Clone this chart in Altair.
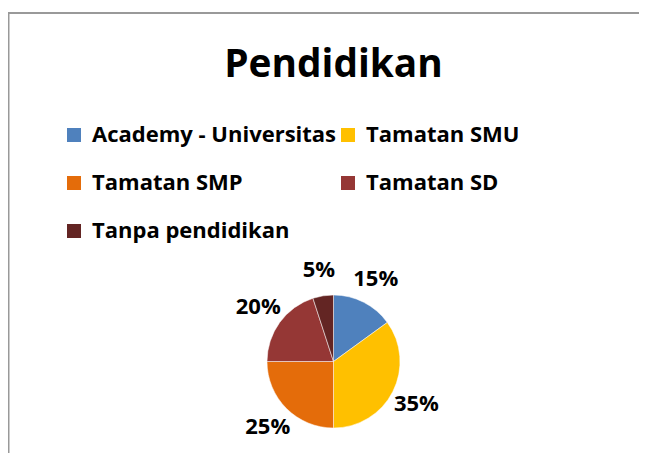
import altair as alt
import pandas as pd

categories = ["Academy - Universitas", "Tamatan SMU", "Tamatan SMP", "Tamatan SD", "Tanpa pendidikan"]
values = [15, 35, 25, 20, 5]
labels = ["15%", "35%", "25%", "20%", "5%"]
colors = ["#4F81BD", "#FFC000", "#E46C0A", "#953735", "#632523"]
title_text = "Pendidikan"

df = pd.DataFrame({
    "cat": categories,
    "val": values,
    "label": labels,
    "idx": list(range(len(categories))),
})

FONT = "Open Sans"
W, H = 631, 441
CX, CY = 325.5, 349.5
R = 66.5

base = alt.Chart(df).encode(
    theta=alt.Theta("val:Q", stack=True),
    order=alt.Order("idx:Q"),
)

pie = base.mark_arc(outerRadius=R, stroke="white", strokeWidth=0.5).encode(
    x=alt.value(CX), y=alt.value(CY),
    color=alt.Color(
        "cat:N",
        scale=alt.Scale(domain=categories, range=colors),
        sort=categories,
        legend=alt.Legend(
            title=None, orient="none", legendX=55, legendY=112,
            direction="horizontal", columns=2,
            symbolType="square", symbolSize=196, symbolStrokeWidth=0,
            labelFont=FONT, labelFontSize=22, labelFontWeight="bold",
            labelColor="black", labelOffset=7, labelLimit=400,
            rowPadding=26, columnPadding=-1, padding=0,
        ),
    ),
)

text = base.mark_text(radius=93, font=FONT, fontSize=22, fontWeight="bold",
                      color="black", align="center", baseline="middle").encode(
    x=alt.value(CX), y=alt.value(CY),
    text="label:N",
)

title = alt.Chart(pd.DataFrame({"t": [title_text]})).mark_text(
    font=FONT, fontSize=38.8, fontWeight="bold", color="black",
    align="center", baseline="alphabetic",
).encode(x=alt.value(325.5), y=alt.value(65), text="t:N")

left_rule = alt.Chart(df.head(1)).mark_rule(color="#999999", strokeWidth=2).encode(
    x=alt.value(0.5), y=alt.value(0), y2=alt.value(H))
top_rule = alt.Chart(df.head(1)).mark_rule(color="#999999", strokeWidth=2).encode(
    x=alt.value(0), x2=alt.value(W), y=alt.value(1))

chart = alt.layer(left_rule, top_rule, pie, text, title).properties(
    width=W, height=H,
    padding={"left": 0, "top": 4, "right": 0, "bottom": 0},
    autosize=alt.AutoSizeParams(type="none"),
).configure_view(stroke=None).configure(background="white")

chart.save("out.html", embed_options={"renderer": "svg", "actions": False})
